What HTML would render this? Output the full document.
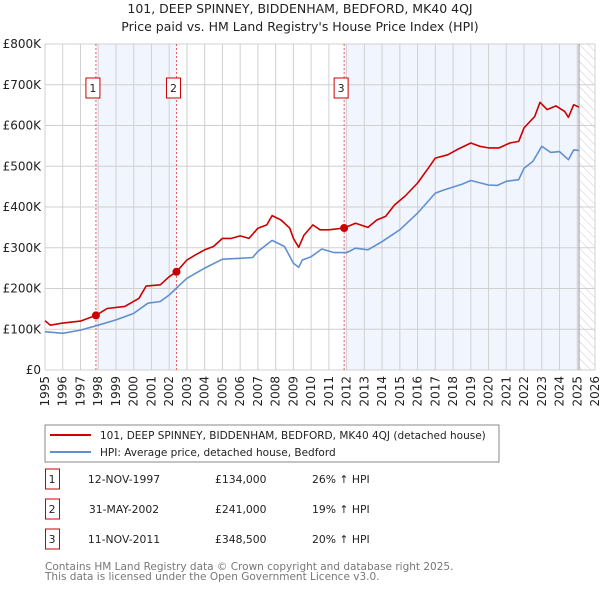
<!DOCTYPE html>
<html><head><meta charset="utf-8"><style>
body{margin:0;background:#fff;font-family:"DejaVu Sans","Liberation Sans",sans-serif;}
svg text{font-family:"DejaVu Sans","Liberation Sans",sans-serif;}
</style></head><body>
<svg id="c" width="600" height="590" xmlns="http://www.w3.org/2000/svg">
<defs><pattern id="hatch" width="6" height="6" patternUnits="userSpaceOnUse" patternTransform="rotate(-45)"><line x1="0" y1="0" x2="0" y2="6" stroke="#ccc" stroke-width="1"/></pattern></defs>
<text x="300" y="13" text-anchor="middle" font-size="12.5" fill="#222">101, DEEP SPINNEY, BIDDENHAM, BEDFORD, MK40 4QJ</text>
<text x="300" y="31" text-anchor="middle" font-size="12.5" fill="#222">Price paid vs. HM Land Registry's House Price Index (HPI)</text>
<g id="plot"></g>
<rect x="45" y="425" width="454" height="37" fill="#fff" stroke="#888"/>
<line x1="50" y1="435" x2="91" y2="435" stroke="#cc0000" stroke-width="2"/>
<text x="100" y="439" font-size="10.5" fill="#222">101, DEEP SPINNEY, BIDDENHAM, BEDFORD, MK40 4QJ (detached house)</text>
<line x1="50" y1="452" x2="91" y2="452" stroke="#6090d0" stroke-width="2"/>
<text x="100" y="456" font-size="10.5" fill="#222">HPI: Average price, detached house, Bedford</text>
<g id="table" font-size="10.8" fill="#222"></g>
<text x="45" y="570" font-size="10.5" fill="#777">Contains HM Land Registry data © Crown copyright and database right 2025.</text>
<text x="45" y="580" font-size="10.5" fill="#777">This data is licensed under the Open Government Licence v3.0.</text>
</svg>
<script>
const hpiYears=[1995,1996,1997,1998,1999,2000,2000.8,2001.5,2002,2002.5,2003,2004,2005,2006,2006.7,2007,2007.8,2008.5,2009,2009.3,2009.5,2010,2010.6,2011.3,2012,2012.5,2013.2,2014,2015,2016,2017,2017.5,2018.5,2019,2020,2020.5,2021,2021.7,2022,2022.5,2023,2023.5,2024,2024.5,2024.8,2025.1];
const hpiValues=[94,90,98,110,123,139,164,168,184,205,225,250,272,274,276,291,318,303,262,252,270,278,297,288,288,299,295,315,344,385,434,442,456,465,454,453,463,467,495,512,549,534,536,516,540,539];
const priceYears=[1995,1995.3,1996,1997,1997.87,1998.5,1999.5,2000.3,2000.7,2001.5,2002,2002.41,2003,2003.5,2004,2004.5,2005,2005.5,2006,2006.5,2007,2007.5,2007.8,2008.3,2008.8,2009,2009.3,2009.6,2010.1,2010.5,2011,2011.86,2012.5,2013.2,2013.7,2014.2,2014.7,2015.3,2016,2016.6,2017,2017.7,2018.2,2019,2019.5,2020,2020.6,2021.2,2021.7,2022,2022.6,2022.9,2023.3,2023.8,2024.3,2024.5,2024.8,2025.1];
const priceValues=[121,110,115,120,134,151,156,176,206,209,229,241,270,283,295,303,323,323,329,323,348,356,379,368,348,323,301,331,356,344,344,348.5,360,350,368,377,405,427,459,495,520,528,540,557,549,545,545,557,561,594,622,657,639,648,634,620,651,645];
const saleYears=[1997.87,2002.41,2011.86];
const saleValues=[134,241,348.5];
const saleLabels=["1","2","3"];
const saleDates=["12-NOV-1997","31-MAY-2002","11-NOV-2011"];
const salePrices=["£134,000","£241,000","£348,500"];
const saleHpi=["26% ↑ HPI","19% ↑ HPI","20% ↑ HPI"];
const yTicks=[0,100,200,300,400,500,600,700,800];
const yTickLabels=["£0","£100K","£200K","£300K","£400K","£500K","£600K","£700K","£800K"];
const xTicks=[1995,1996,1997,1998,1999,2000,2001,2002,2003,2004,2005,2006,2007,2008,2009,2010,2011,2012,2013,2014,2015,2016,2017,2018,2019,2020,2021,2022,2023,2024,2025,2026];

const NS="http://www.w3.org/2000/svg";
const L=45,R=595,T=44,B=370;
const X=y=>L+(y-1995)/(2026-1995)*(R-L);
const Y=v=>B-v/800*(B-T);
const plot=document.getElementById('plot');
function mk(tag,attrs,parent){const e=document.createElementNS(NS,tag);for(const k in attrs)e.setAttribute(k,attrs[k]);(parent||plot).appendChild(e);return e;}
let e=mk('rect',{x:X(saleYears[0]),y:T,width:X(saleYears[1])-X(saleYears[0]),height:B-T,fill:'#eef3fc',opacity:0.8});


e=mk('rect',{x:X(saleYears[2]),y:T,width:X(2025.1)-X(saleYears[2]),height:B-T,fill:'#eef3fc',opacity:0.8});


e=mk('rect',{x:X(2025.1),y:T,width:R-X(2025.1),height:B-T,fill:'url(#hatch)'});


xTicks.forEach((t,i)=>{
 let g=mk('line',{x1:X(t),x2:X(t),y1:T,y2:B,stroke:'#d0d0d0','stroke-width':1});
 
 
 let tx=mk('text',{x:0,y:0,'font-size':12,fill:'#222','text-anchor':'end',transform:`translate(${X(t)+4},${B+6}) rotate(-90)`});
 tx.textContent=t;
 
 
});
yTicks.forEach((t,i)=>{
 let g=mk('line',{x1:L,x2:R,y1:Y(t),y2:Y(t),stroke:'#d0d0d0','stroke-width':1});
 
 
 let tx=mk('text',{x:L-4,y:Y(t)+4,'font-size':12,fill:'#222','text-anchor':'end'});
 tx.textContent=yTickLabels[i];
 
 
});
e=mk('line',{x1:X(2025.1),x2:X(2025.1),y1:T,y2:B,stroke:'#999','stroke-width':1});


saleYears.forEach((s,i)=>{
 let l=mk('line',{x1:X(s),x2:X(s),y1:T,y2:B,stroke:'#e06060','stroke-width':1,'stroke-dasharray':'2,2'});
 
 
 let b=mk('rect',{x:X(s)-10,y:78,width:14,height:20,fill:'#fff',stroke:'#cc0000','stroke-width':1});
 
 
 let t=mk('text',{x:X(s)-3,y:92,'font-size':11,fill:'#222','text-anchor':'middle'});
 t.textContent=saleLabels[i];
 
 
});
function path(xs,vs,color,name){
 const d=xs.map((x,i)=>(i?'L':'M')+X(x).toFixed(1)+','+Y(vs[i]).toFixed(1)).join('');
 const p=mk('path',{d:d,fill:'none',stroke:color,'stroke-width':1.6,'stroke-linejoin':'round'});
 
 
}
path(hpiYears,hpiValues,'#6090d0','hpi-line');
path(priceYears,priceValues,'#cc0000','price-line');
saleYears.forEach((s,i)=>{
 let c=mk('circle',{cx:X(s),cy:Y(saleValues[i]),r:4,fill:'#cc0000'});
 
 
});
const tb=document.getElementById('table');
saleYears.forEach((s,i)=>{
 const y=483+i*30;
 let b=mk('rect',{x:45.5,y:y-14,width:14,height:20,fill:'#fff',stroke:'#cc0000','stroke-width':1},tb);
 
 
 const cells=[[52,saleLabels[i],'middle','table-row-number'],[124,saleDates[i],'middle','table-date'],[215,salePrices[i],'start','table-price'],[312,saleHpi[i],'start','table-hpi-diff']];
 cells.forEach(c=>{
  let t=mk('text',{x:c[0],y:y,'text-anchor':c[2]},tb);
  t.textContent=c[1];
  
  
 });
});
</script>
</body></html>
